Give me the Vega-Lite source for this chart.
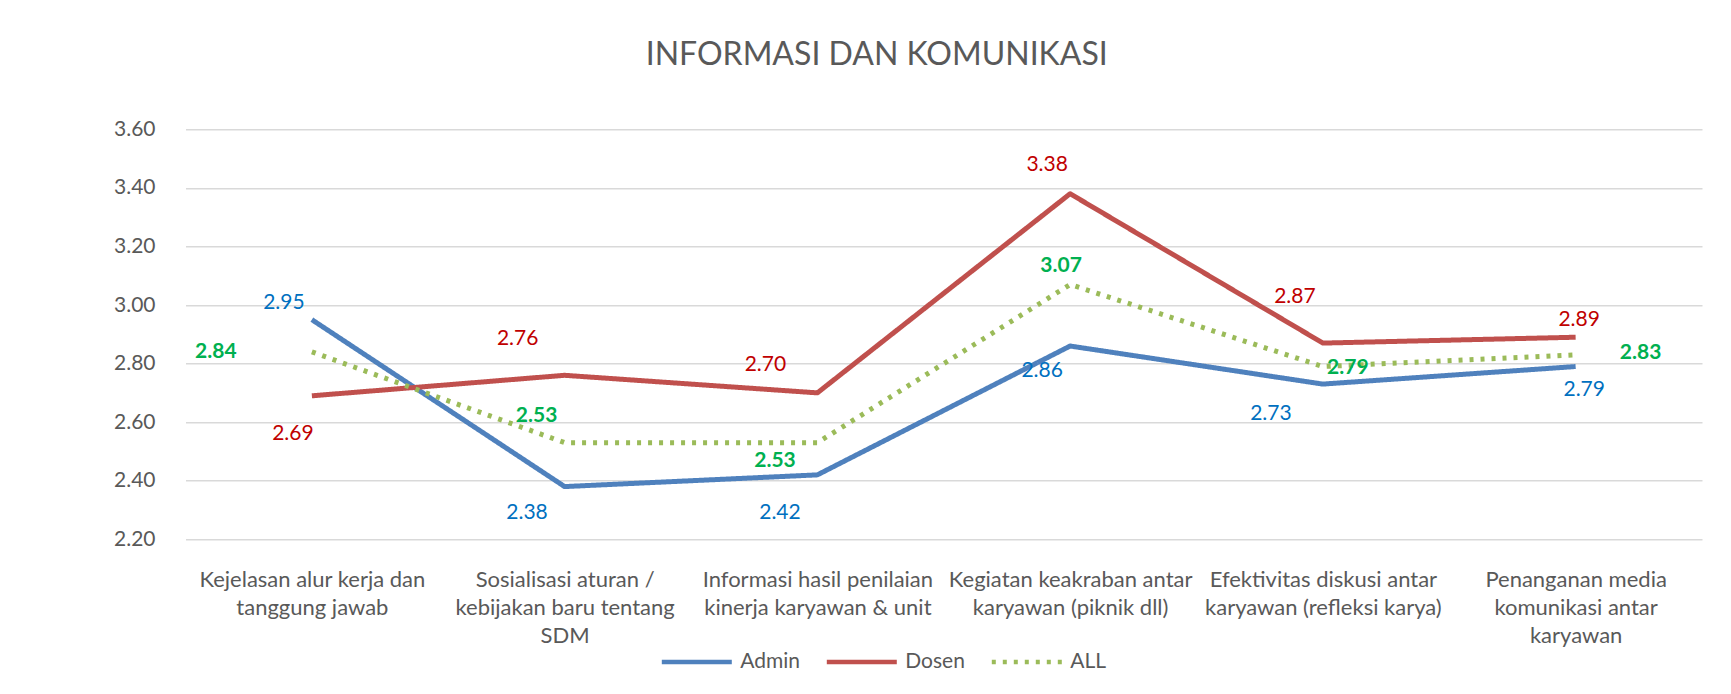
{
  "$schema": "https://vega.github.io/schema/vega-lite/v6.json",
  "width": 1516.5,
  "height": 410,
  "autosize": {"type": "none"},
  "padding": {"left": 185.5, "top": 129.3, "right": 29, "bottom": 154.7},
  "background": "white",
  "config": {"font": "Lato", "view": {"stroke": null}},
  "title": {
    "text": "INFORMASI DAN KOMUNIKASI",
    "font": "Lato",
    "fontSize": 32,
    "fontWeight": "normal",
    "color": "#595959",
    "anchor": "middle",
    "frame": "group",
    "dx": -67,
    "offset": 46
  },
  "data": {
    "values": [
      {"cat": "Kejelasan alur kerja dan tanggung jawab", "item": 1, "series": "Admin", "value": 2.95},
      {"cat": "Sosialisasi aturan / kebijakan baru tentang SDM", "item": 2, "series": "Admin", "value": 2.38},
      {"cat": "Informasi hasil penilaian kinerja karyawan & unit", "item": 3, "series": "Admin", "value": 2.42},
      {"cat": "Kegiatan keakraban antar karyawan (piknik dll)", "item": 4, "series": "Admin", "value": 2.86},
      {"cat": "Efektivitas diskusi antar karyawan (refleksi karya)", "item": 5, "series": "Admin", "value": 2.73},
      {"cat": "Penanganan media komunikasi antar karyawan", "item": 6, "series": "Admin", "value": 2.79},
      {"cat": "Kejelasan alur kerja dan tanggung jawab", "item": 1, "series": "Dosen", "value": 2.69},
      {"cat": "Sosialisasi aturan / kebijakan baru tentang SDM", "item": 2, "series": "Dosen", "value": 2.76},
      {"cat": "Informasi hasil penilaian kinerja karyawan & unit", "item": 3, "series": "Dosen", "value": 2.70},
      {"cat": "Kegiatan keakraban antar karyawan (piknik dll)", "item": 4, "series": "Dosen", "value": 3.38},
      {"cat": "Efektivitas diskusi antar karyawan (refleksi karya)", "item": 5, "series": "Dosen", "value": 2.87},
      {"cat": "Penanganan media komunikasi antar karyawan", "item": 6, "series": "Dosen", "value": 2.89},
      {"cat": "Kejelasan alur kerja dan tanggung jawab", "item": 1, "series": "ALL", "value": 2.84},
      {"cat": "Sosialisasi aturan / kebijakan baru tentang SDM", "item": 2, "series": "ALL", "value": 2.53},
      {"cat": "Informasi hasil penilaian kinerja karyawan & unit", "item": 3, "series": "ALL", "value": 2.53},
      {"cat": "Kegiatan keakraban antar karyawan (piknik dll)", "item": 4, "series": "ALL", "value": 3.07},
      {"cat": "Efektivitas diskusi antar karyawan (refleksi karya)", "item": 5, "series": "ALL", "value": 2.79},
      {"cat": "Penanganan media komunikasi antar karyawan", "item": 6, "series": "ALL", "value": 2.83}
    ]
  },
  "encoding": {
    "x": {
      "field": "cat",
      "type": "nominal",
      "sort": null,
      "scale": {"type": "point", "padding": 0.5},
      "axis": {
        "title": null,
        "labelAngle": 0,
        "labelAlign": "center",
        "labelBaseline": "top",
        "labelPadding": 30,
        "labelFont": "Lato",
        "labelFontSize": 22,
        "labelColor": "#595959",
        "labelLineHeight": 28.3,
        "labelLimit": 0,
        "labelOverlap": false,
        "ticks": false,
        "tickSize": 0,
        "domain": false,
        "grid": false,
        "labelExpr": "({'Kejelasan alur kerja dan tanggung jawab': ['Kejelasan alur kerja dan', 'tanggung jawab'], 'Sosialisasi aturan / kebijakan baru tentang SDM': ['Sosialisasi aturan /', 'kebijakan baru tentang', 'SDM'], 'Informasi hasil penilaian kinerja karyawan & unit': ['Informasi hasil penilaian', 'kinerja karyawan & unit'], 'Kegiatan keakraban antar karyawan (piknik dll)': ['Kegiatan keakraban antar', 'karyawan (piknik dll)'], 'Efektivitas diskusi antar karyawan (refleksi karya)': ['Efektivitas diskusi antar', 'karyawan (refleksi karya)'], 'Penanganan media komunikasi antar karyawan': ['Penanganan media', 'komunikasi antar', 'karyawan']})[datum.value]"
      }
    },
    "y": {
      "field": "value",
      "type": "quantitative",
      "scale": {"domain": [2.2, 3.6], "nice": false, "zero": false},
      "axis": {
        "title": null,
        "values": [2.2, 2.4, 2.6, 2.8, 3.0, 3.2, 3.4, 3.6],
        "format": ".2f",
        "grid": true,
        "gridColor": "#D9D9D9",
        "gridWidth": 1.5,
        "ticks": false,
        "tickSize": 0,
        "domain": false,
        "labelFont": "Lato",
        "labelFontSize": 21,
        "labelColor": "#595959",
        "labelPadding": 30.5
      }
    }
  },
  "layer": [
    {
      "mark": {"type": "line", "strokeWidth": 5, "strokeJoin": "round"},
      "encoding": {
        "color": {
          "field": "series",
          "type": "nominal",
          "sort": ["Admin", "Dosen", "ALL"],
          "scale": {"domain": ["Admin", "Dosen", "ALL"], "range": ["#4F81BD", "#C0504D", "#9BBB59"]},
          "legend": {
            "orient": "none",
            "legendX": 473.8,
            "legendY": 495,
            "direction": "horizontal",
            "title": null,
            "symbolType": "stroke",
            "symbolSize": 4900,
            "symbolStrokeWidth": 4.5,
            "labelFont": "Lato",
            "labelFontSize": 21,
            "labelColor": "#595959",
            "labelOffset": 6,
            "columnPadding": 17,
            "padding": 0
          }
        },
        "strokeDash": {
          "field": "series",
          "type": "nominal",
          "sort": ["Admin", "Dosen", "ALL"],
          "scale": {"domain": ["Admin", "Dosen", "ALL"], "range": [[1, 0], [1, 0], [4, 7]]},
          "legend": {
            "orient": "none",
            "legendX": 473.8,
            "legendY": 495,
            "direction": "horizontal",
            "title": null,
            "symbolType": "stroke",
            "symbolSize": 4900,
            "symbolStrokeWidth": 4.5,
            "labelFont": "Lato",
            "labelFontSize": 21,
            "labelColor": "#595959",
            "labelOffset": 6,
            "columnPadding": 17,
            "padding": 0
          }
        }
      }
    },
    {"transform": [{"filter": "datum.series === 'Admin' && datum.item === 1"}], "mark": {"type": "text", "fontSize": 21, "color": "#0070C0", "baseline": "middle", "dx": -28, "dy": -17}, "encoding": {"text": {"field": "value", "format": ".2f"}}},
    {"transform": [{"filter": "datum.series === 'Admin' && datum.item === 2"}], "mark": {"type": "text", "fontSize": 21, "color": "#0070C0", "baseline": "middle", "dx": -37.6, "dy": 26}, "encoding": {"text": {"field": "value", "format": ".2f"}}},
    {"transform": [{"filter": "datum.series === 'Admin' && datum.item === 3"}], "mark": {"type": "text", "fontSize": 21, "color": "#0070C0", "baseline": "middle", "dx": -37.4, "dy": 38}, "encoding": {"text": {"field": "value", "format": ".2f"}}},
    {"transform": [{"filter": "datum.series === 'Admin' && datum.item === 4"}], "mark": {"type": "text", "fontSize": 21, "color": "#0070C0", "baseline": "middle", "dx": -28, "dy": 25}, "encoding": {"text": {"field": "value", "format": ".2f"}}},
    {"transform": [{"filter": "datum.series === 'Admin' && datum.item === 5"}], "mark": {"type": "text", "fontSize": 21, "color": "#0070C0", "baseline": "middle", "dx": -52, "dy": 30}, "encoding": {"text": {"field": "value", "format": ".2f"}}},
    {"transform": [{"filter": "datum.series === 'Admin' && datum.item === 6"}], "mark": {"type": "text", "fontSize": 21, "color": "#0070C0", "baseline": "middle", "dx": 8.6, "dy": 23.5}, "encoding": {"text": {"field": "value", "format": ".2f"}}},
    {"transform": [{"filter": "datum.series === 'Dosen' && datum.item === 1"}], "mark": {"type": "text", "fontSize": 21, "color": "#C00000", "baseline": "middle", "dx": -19, "dy": 38}, "encoding": {"text": {"field": "value", "format": ".2f"}}},
    {"transform": [{"filter": "datum.series === 'Dosen' && datum.item === 2"}], "mark": {"type": "text", "fontSize": 21, "color": "#C00000", "baseline": "middle", "dx": -47, "dy": -36}, "encoding": {"text": {"field": "value", "format": ".2f"}}},
    {"transform": [{"filter": "datum.series === 'Dosen' && datum.item === 3"}], "mark": {"type": "text", "fontSize": 21, "color": "#C00000", "baseline": "middle", "dx": -52, "dy": -28}, "encoding": {"text": {"field": "value", "format": ".2f"}}},
    {"transform": [{"filter": "datum.series === 'Dosen' && datum.item === 4"}], "mark": {"type": "text", "fontSize": 21, "color": "#C00000", "baseline": "middle", "dx": -23, "dy": -29}, "encoding": {"text": {"field": "value", "format": ".2f"}}},
    {"transform": [{"filter": "datum.series === 'Dosen' && datum.item === 5"}], "mark": {"type": "text", "fontSize": 21, "color": "#C00000", "baseline": "middle", "dx": -28, "dy": -46}, "encoding": {"text": {"field": "value", "format": ".2f"}}},
    {"transform": [{"filter": "datum.series === 'Dosen' && datum.item === 6"}], "mark": {"type": "text", "fontSize": 21, "color": "#C00000", "baseline": "middle", "dx": 3.5, "dy": -17}, "encoding": {"text": {"field": "value", "format": ".2f"}}},
    {"transform": [{"filter": "datum.series === 'ALL' && datum.item === 1"}], "mark": {"type": "text", "fontSize": 21, "fontWeight": "bold", "color": "#00B050", "baseline": "middle", "dx": -96, "dy": 0}, "encoding": {"text": {"field": "value", "format": ".2f"}}},
    {"transform": [{"filter": "datum.series === 'ALL' && datum.item === 2"}], "mark": {"type": "text", "fontSize": 21, "fontWeight": "bold", "color": "#00B050", "baseline": "middle", "dx": -28, "dy": -27}, "encoding": {"text": {"field": "value", "format": ".2f"}}},
    {"transform": [{"filter": "datum.series === 'ALL' && datum.item === 3"}], "mark": {"type": "text", "fontSize": 21, "fontWeight": "bold", "color": "#00B050", "baseline": "middle", "dx": -42.4, "dy": 18}, "encoding": {"text": {"field": "value", "format": ".2f"}}},
    {"transform": [{"filter": "datum.series === 'ALL' && datum.item === 4"}], "mark": {"type": "text", "fontSize": 21, "fontWeight": "bold", "color": "#00B050", "baseline": "middle", "dx": -9, "dy": -19}, "encoding": {"text": {"field": "value", "format": ".2f"}}},
    {"transform": [{"filter": "datum.series === 'ALL' && datum.item === 5"}], "mark": {"type": "text", "fontSize": 21, "fontWeight": "bold", "color": "#00B050", "baseline": "middle", "dx": 25, "dy": 1}, "encoding": {"text": {"field": "value", "format": ".2f"}}},
    {"transform": [{"filter": "datum.series === 'ALL' && datum.item === 6"}], "mark": {"type": "text", "fontSize": 21, "fontWeight": "bold", "color": "#00B050", "baseline": "middle", "dx": 65, "dy": -2}, "encoding": {"text": {"field": "value", "format": ".2f"}}}
  ]
}
